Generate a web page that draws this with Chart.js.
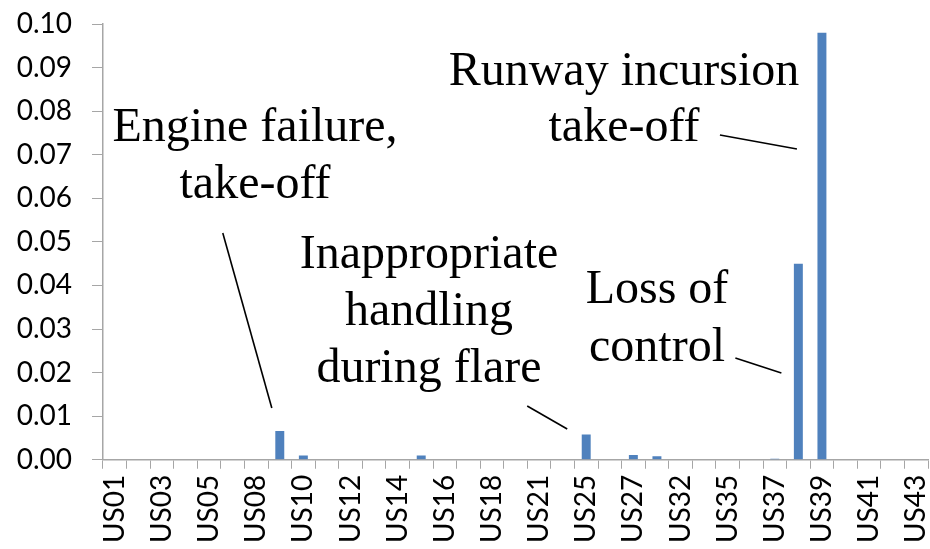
<!DOCTYPE html>
<html lang="en">
<head>
  <meta charset="UTF-8" />
  <title>Accident scenario frequencies</title>
  <script src="https://cdn.jsdelivr.net/npm/chart.js"></script>
  <style>
    html, body { margin:0; padding:0; background:#fff; }
    #wrap { width:930px; height:549px; position:relative; }
  </style>
</head>
<body>
  <div id="wrap"><canvas id="chart"></canvas></div>

  <script>
    // categories (only every other one gets a label on the axis)
    const scenarios = [
      'US01','US02','US03','US04','US05','US06','US08','US09','US10','US11',
      'US12','US13','US14','US15','US16','US17','US18','US20','US21','US24',
      'US25','US26','US27','US28','US32','US34','US35','US36','US37','US38',
      'US39','US40','US41','US42','US43'
    ];
    const frequency = [
      0, 0, 0, 0, 0, 0, 0, 0.0066, 0.001, 0,
      0.0001, 0, 0, 0.001, 0, 0, 0, 0, 0, 0,
      0.0058, 0, 0.0011, 0.0008, 0, 0, 0, 0, 0.0002, 0.045,
      0.098, 0, 0, 0, 0
    ];
    const yTicks = [0, 0.01, 0.02, 0.03, 0.04, 0.05, 0.06, 0.07, 0.08, 0.09, 0.10];

    // callouts: text block + leader line pointing at a bar
    const callouts = [
      { bar: 'US09', lines: ['Engine failure,', 'take-off'], cx: 255, y0: 141, lh: 57,
        from: [-57, 233], to: [-8, 408] },
      { bar: 'US25', lines: ['Inappropriate', 'handling', 'during flare'], cx: 429, y0: 268, lh: 57,
        from: [-59, 406], to: [-19, 429] },
      { bar: 'US39', lines: ['Runway incursion', 'take-off'], cx: 624, y0: 85, lh: 56,
        from: [-102, 135], to: [-25, 149] },
      { bar: 'US38', lines: ['Loss of', 'control'], cx: 657, y0: 303, lh: 58,
        from: [-63, 358], to: [-17, 373] }
    ];

    const calloutPlugin = {
      id: 'callouts',
      afterDatasetsDraw(chart) {
        const ctx = chart.ctx;
        const xs = chart.scales.x;
        ctx.save();
        ctx.fillStyle = '#000';
        ctx.strokeStyle = '#000';
        ctx.lineWidth = 1.6;
        ctx.font = '48px "Liberation Serif", "Times New Roman", serif';
        ctx.textAlign = 'center';
        ctx.textBaseline = 'alphabetic';
        callouts.forEach(c => {
          c.lines.forEach((t, i) => ctx.fillText(t, c.cx, c.y0 + i * c.lh));
          const bx = xs.getPixelForValue(scenarios.indexOf(c.bar));
          ctx.beginPath();
          ctx.moveTo(bx + c.from[0], c.from[1]);
          ctx.lineTo(bx + c.to[0], c.to[1]);
          ctx.stroke();
        });
        ctx.restore();
      }
    };

    const axisGrey = '#a6a6a6';
    const tickFont = { family: 'Lato, "Open Sans", sans-serif', size: 28 };

    new Chart(document.getElementById('chart'), {
      type: 'bar',
      data: {
        labels: scenarios,
        datasets: [{
          data: frequency,
          backgroundColor: '#4f81bd',
          borderWidth: 0,
          categoryPercentage: 1,
          barPercentage: 0.38
        }]
      },
      options: {
        responsive: true,
        maintainAspectRatio: false,
        animation: false,
        layout: { padding: { left: 0, right: 2, top: 24, bottom: 0 } },
        plugins: { legend: { display: false }, tooltip: { enabled: false } },
        scales: {
          x: {
            afterFit: s => { s.paddingRight = 0; s.paddingLeft = 0; },
            grid: { drawOnChartArea: false, color: axisGrey, tickLength: 9, offset: true },
            border: { color: axisGrey, width: 1.5 },
            ticks: {
              color: '#000', font: tickFont, padding: 6,
              autoSkip: false, minRotation: 90, maxRotation: 90,
              callback: (v, i) => (i % 2 === 0 ? scenarios[i] : '')
            }
          },
          y: {
            min: 0, max: 0.1,
            afterBuildTicks: s => { s.ticks = yTicks.map(v => ({ value: v })); },
            afterFit: s => { s.width = 103; s.paddingTop = 0; s.paddingBottom = 0; },
            grid: { drawOnChartArea: false, color: axisGrey, tickLength: 11 },
            border: { color: axisGrey, width: 1.5 },
            ticks: { color: '#000', font: tickFont, padding: 20, callback: v => v.toFixed(2) }
          }
        }
      },
      plugins: [calloutPlugin]
    });
  </script>
</body>
</html>
